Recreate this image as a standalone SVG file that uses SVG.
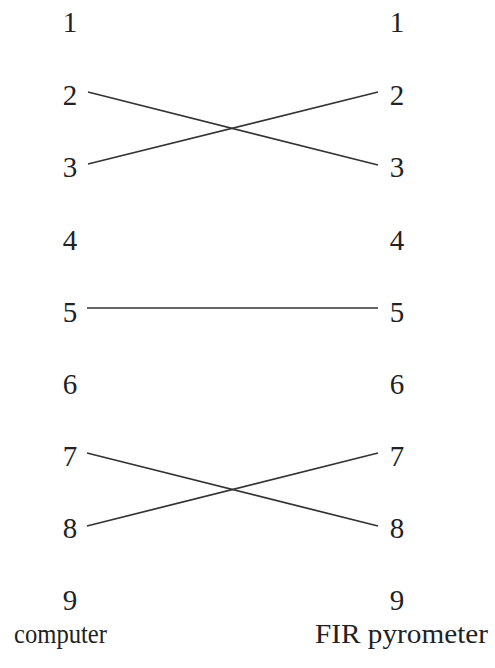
<svg xmlns="http://www.w3.org/2000/svg" width="495" height="668" viewBox="0 0 495 668">
<style>
.n{font-family:"Liberation Serif","Times New Roman",serif;font-size:29px;fill:#222;text-anchor:middle}
.l{font-family:"Liberation Serif","Times New Roman",serif;font-size:27px;fill:#222}
.w{stroke:#333;stroke-width:1.7;fill:none}
</style>
<rect width="495" height="668" fill="#fff"/>
<g id="computer">
<text class="n" x="70" y="32">1</text>
<text class="n" x="70" y="105">2</text>
<text class="n" x="70" y="177">3</text>
<text class="n" x="70" y="250">4</text>
<text class="n" x="70" y="322">5</text>
<text class="n" x="70" y="394">6</text>
<text class="n" x="70" y="466">7</text>
<text class="n" x="70" y="538">8</text>
<text class="n" x="70" y="610">9</text>
<text class="l" x="14" y="643" textLength="93" lengthAdjust="spacingAndGlyphs">computer</text>
</g>
<g id="pyrometer">
<text class="n" x="397" y="32">1</text>
<text class="n" x="397" y="105">2</text>
<text class="n" x="397" y="177">3</text>
<text class="n" x="397" y="250">4</text>
<text class="n" x="397" y="322">5</text>
<text class="n" x="397" y="394">6</text>
<text class="n" x="397" y="466">7</text>
<text class="n" x="397" y="538">8</text>
<text class="n" x="397" y="610">9</text>
<text class="l" x="315" y="643" textLength="173" lengthAdjust="spacingAndGlyphs">FIR pyrometer</text>
</g>
<g id="connectors">
<line class="w" x1="88" y1="92" x2="378" y2="165"/>
<line class="w" x1="88" y1="164" x2="378" y2="92"/>
<line class="w" x1="87" y1="308" x2="378" y2="308"/>
<line class="w" x1="87" y1="453" x2="378" y2="526"/>
<line class="w" x1="87" y1="526" x2="378" y2="453"/>
</g>
</svg>
